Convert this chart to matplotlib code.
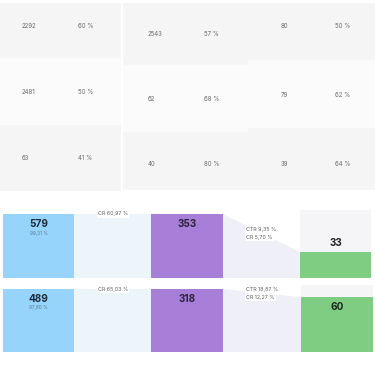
import matplotlib
matplotlib.use("Agg")
import matplotlib.pyplot as plt
from matplotlib.patches import Rectangle, Polygon

plt.rcParams['font.family'] = ['Inter', 'DejaVu Sans']

# ---- data ----
grid_counts = [[2292, 2481, 63], [2543, 62, 40], [80, 79, 39]]   # per column, rows top->bottom
grid_pcts = [[60, 50, 41], [57, 68, 80], [50, 62, 64]]

first_vals = [579, 489]
first_pcts = ["99,31 %", "97,80 %"]
cr1_labels = ["CR 60,97 %", "CR 65,03 %"]
second_vals = [353, 318]
ctr_labels = ["CTR 9,35 %", "CTR 18,87 %"]
cr2_labels = ["CR 5,70 %", "CR 12,27 %"]
cr2_vals = [5.70, 12.27]
third_vals = [33, 60]
third_scale = 15.0

# ---- layout ----
W, H = 375, 366
fig = plt.figure(figsize=(W / 100, H / 100), dpi=100)
ax = fig.add_axes([0, 0, 1, 1])
ax.set_xlim(0, W)
ax.set_ylim(H, 0)
ax.axis('off')

col_x = [(0, 121), (123, 248), (248, 375)]
col_rows = [[3, 58, 125, 191], [3, 65, 132, 190], [3, 60, 128, 190]]
txt_y = [[26, 92, 158], [34, 99, 164], [26, 95, 164]]
left_x = [22, 148, 281]
pct_x = [78, 204, 335]
row_cols = ['#f5f5f5', '#fbfbfb', '#f5f5f5']

for c in range(3):
    x0, x1 = col_x[c]
    for r in range(3):
        y0, y1 = col_rows[c][r], col_rows[c][r + 1]
        ax.add_patch(Rectangle((x0, y0), x1 - x0, y1 - y0, color=row_cols[r], lw=0))
        ax.text(left_x[c], txt_y[c][r], str(grid_counts[c][r]), fontsize=4.4,
                color='#6a6a6a', ha='left', va='center')
        ax.text(pct_x[c], txt_y[c][r], f"{grid_pcts[c][r]} %", fontsize=4.4,
                color='#6a6a6a', ha='left', va='center')

# funnel rows
row_y = [(214, 278), (289, 352)]
bg_top = [210, 285]
blue_x = (3, 74)
purple_x = (151, 223)
green_x = [(300, 371), (301, 373)]

for i in range(2):
    y0, y1 = row_y[i]
    h = y1 - y0
    # blue bar
    ax.add_patch(Rectangle((blue_x[0], y0), blue_x[1] - blue_x[0], h, color='#96d4fb', lw=0))
    # blue connector
    ax.add_patch(Rectangle((blue_x[1], y0), purple_x[0] - blue_x[1], h, color='#ebf5fa', lw=0))
    # purple bar
    ax.add_patch(Rectangle((purple_x[0], y0), purple_x[1] - purple_x[0], h, color='#a87fd8', lw=0))
    # green background + bar
    gx0, gx1 = green_x[i]
    gh = y1 - bg_top[i]
    ax.add_patch(Rectangle((gx0, bg_top[i]), gx1 - gx0, gh, color='#f5f5f7', lw=0))
    frac = cr2_vals[i] / third_scale
    gtop = y1 - frac * gh
    ax.add_patch(Rectangle((gx0, gtop), gx1 - gx0, y1 - gtop, color='#7ecd82', lw=0))
    # lavender connector
    ax.add_patch(Polygon([(purple_x[1], y0), (gx0, gtop), (gx0, y1), (purple_x[1], y1)],
                         closed=True, color='#efeff7', lw=0))

    # texts
    ax.text(38.5, y0 + 10, str(first_vals[i]), fontsize=7.2, fontweight='bold',
            color='#1f2d3d', ha='center', va='center')
    ax.text(38.5, y0 + 19, first_pcts[i], fontsize=3.4, color='#5a7a90',
            ha='center', va='center')
    ax.text(113, y0, cr1_labels[i], fontsize=3.8, color='#5f5f5f', ha='center', va='center',
            bbox=dict(boxstyle='square,pad=0.25', fc='white', ec='none'))
    ax.text(187, y0 + 10, str(second_vals[i]), fontsize=7.2, fontweight='bold',
            color='#2d2340', ha='center', va='center')
    ax.text(246, y0 + (15 if i == 0 else 0), ctr_labels[i], fontsize=3.8, color='#5f5f5f',
            ha='left', va='center',
            bbox=dict(boxstyle='square,pad=0.25', fc='white', ec='none'))
    ax.text(246, y0 + (23 if i == 0 else 8), cr2_labels[i], fontsize=3.8, color='#5f5f5f',
            ha='left', va='center',
            bbox=dict(boxstyle='square,pad=0.25', fc='white', ec='none'))
    ty = gtop - 9 if gtop - bg_top[i] > 20 else gtop + 10
    ax.text((gx0 + gx1) / 2, ty, str(third_vals[i]), fontsize=7.2, fontweight='bold',
            color='#1f2a1f' if ty > gtop else '#222222', ha='center', va='center')

fig.savefig('out.png', dpi=100, facecolor='white')
